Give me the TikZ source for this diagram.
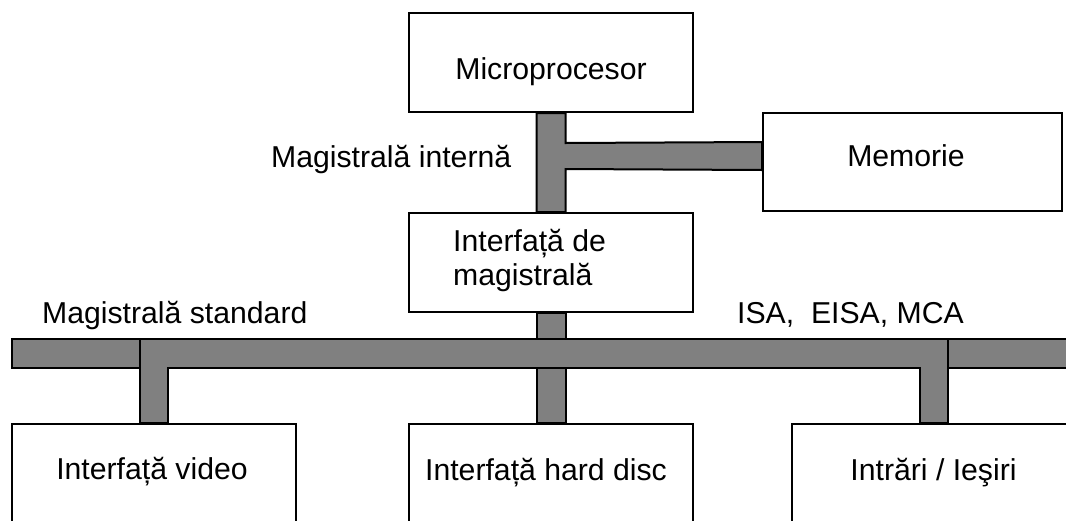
\documentclass[tikz,border=0pt]{standalone}
\usepackage{fontspec}
\setmainfont{Liberation Sans}
\usetikzlibrary{calc}
\definecolor{busgray}{RGB}{128,128,128}

\tikzset{
  unit/.style={draw=black, line width=2pt, fill=white, inner sep=0pt,
               minimum width=284pt, minimum height=99pt},
  busbar/.style={draw=black, line width=2pt, fill=busgray, line join=miter},
  lbl/.style={inner sep=0pt, font=\fontsize{30.2}{34.7}\selectfont}
}

\begin{document}
\begin{tikzpicture}[x=1pt, y=-1pt]
  \clip (0,0) rectangle (1066,520);
  \fill[white] (0,0) rectangle (1066,520);

  % functional blocks
  \node[unit] (cpu) at (551,62.5) {};
  \node[unit, minimum width=299pt, minimum height=98pt] (mem) at (912.5,162) {};
  \node[unit] (bif) at (551,262.5) {};
  \node[unit] (vid) at (154,473.5) {};
  \node[unit] (hdd) at (551,473.5) {};
  \node[unit] (io)  at (934,473.5) {};

  % internal bus: processor -- bus interface, with branch to memory
  \draw[busbar] ($(cpu.south)+(-14.5,0)$) -- ($(cpu.south)+(14.5,0)$)
    -- ($(cpu.south)+(14.5,30)$) -- ($(mem.west)+(0,-20)$)
    -- ($(mem.west)+(0,8)$) -- ($(bif.north)+(14.5,-43)$)
    -- ($(bif.north)+(14.5,0)$) -- ($(bif.north)+(-14.5,0)$) -- cycle;

  % standard bus
  \coordinate (bt) at (12,339);
  \coordinate (bb) at (12,368);
  \coordinate (be) at (1080,368);
  \coordinate (vl) at ($(vid.north)+(-14,0)$);
  \coordinate (vr) at ($(vid.north)+(14,0)$);
  \coordinate (il) at ($(io.north)+(-14,0)$);
  \coordinate (ir) at ($(io.north)+(14,0)$);
  \coordinate (ul) at ($(bif.south)+(-14.5,0)$);
  \coordinate (ur) at ($(bif.south)+(14.5,0)$);
  \coordinate (hl) at ($(hdd.north)+(-14.5,0)$);
  \coordinate (hr) at ($(hdd.north)+(14.5,0)$);

  \draw[busbar] (ul) rectangle (ur |- bt);
  \draw[busbar] (hl |- bb) rectangle (hr);
  \draw[busbar] (bt) rectangle (vl |- bb);
  \draw[busbar] (vl |- bt) -- (ir |- bt) -- (ir) -- (il) -- (il |- bb)
    -- (vr |- bb) -- (vr) -- (vl) -- cycle;
  \draw[busbar] (ir |- bt) rectangle (be);

  % labels
  \node[lbl, anchor=base] at (551,79) {Microprocesor};
  \node[lbl, anchor=base] at (906,166) {Memorie};
  \node[lbl, anchor=base west] at (271,167) {Magistrală internă};
  \node[lbl, anchor=base west] at (453,251) {Interfață de};
  \node[lbl, anchor=base west] at (453,285) {magistrală};
  \node[lbl, anchor=base west] at (42,323) {Magistrală standard};
  \node[lbl, anchor=base west] at (737,323) {ISA,\ \ EISA, MCA};
  \node[lbl, anchor=base] at (152,479) {Interfață video};
  \node[lbl, anchor=base] at (546,480) {Interfață hard disc};
  \node[lbl, anchor=base] at (933.5,480) {Intrări / Ieşiri};
\end{tikzpicture}
\end{document}
